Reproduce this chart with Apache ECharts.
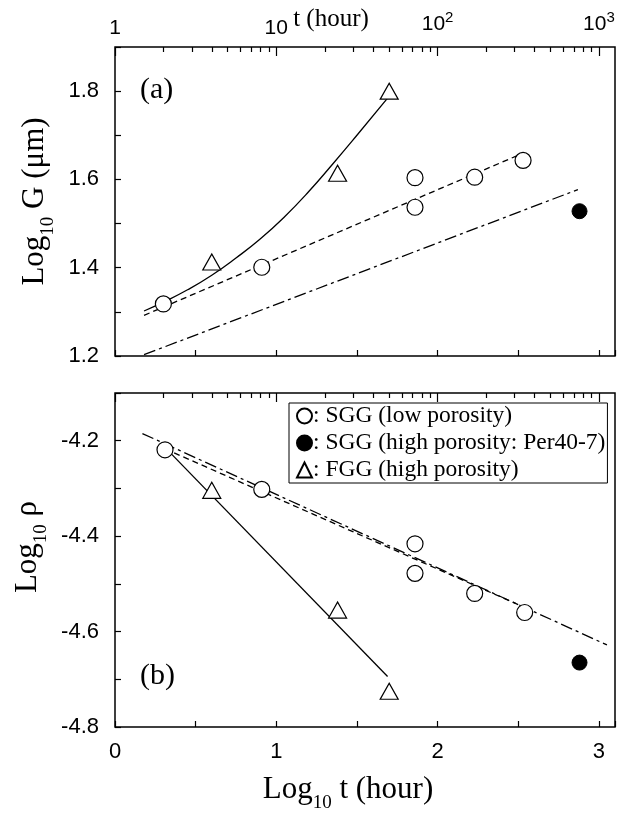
<!DOCTYPE html>
<html><head><meta charset="utf-8">
<script src="https://cdn.jsdelivr.net/npm/echarts@6/dist/echarts.min.js"></script>
<style>html,body{margin:0;padding:0;background:#fff}#c{width:623px;height:815px}</style>
</head><body><div id="c"></div>
<script>
// ---------- data (x = log10 t [hour]) ----------
// panel (a): log10 G (um)
const aSggLowX = [0.30, 0.91, 1.86, 1.86, 2.23, 2.53];
const aSggLowY = [1.318, 1.401, 1.604, 1.537, 1.605, 1.643];
const aSggHighX = [2.88];
const aSggHighY = [1.528];
const aFggX = [0.60, 1.38, 1.70];
const aFggY = [1.413, 1.614, 1.800];
// fitted curves in (a)
const aFggFitX = [0.18, 0.30, 0.45, 0.60, 0.75, 0.90, 1.05, 1.20, 1.35, 1.50, 1.69];
const aFggFitY = [1.302, 1.322, 1.350, 1.383, 1.422, 1.465, 1.515, 1.572, 1.635, 1.700, 1.784];
const aSggFitX = [0.18, 2.52];
const aSggFitY = [1.292, 1.658];
const aHighFitX = [0.18, 2.87];
const aHighFitY = [1.203, 1.577];
// panel (b): log10 rho
const bSggLowX = [0.31, 0.91, 1.86, 1.86, 2.23, 2.54];
const bSggLowY = [-4.219, -4.302, -4.416, -4.478, -4.520, -4.560];
const bSggHighX = [2.88];
const bSggHighY = [-4.665];
const bFggX = [0.60, 1.38, 1.70];
const bFggY = [-4.304, -4.555, -4.725];
const bFggFitX = [0.31, 1.69];
const bFggFitY = [-4.214, -4.694];
const bSggFitX = [0.31, 2.51];
const bSggFitY = [-4.217, -4.545];
const bHighFitX = [0.17, 3.05];
const bHighFitY = [-4.185, -4.628];
// tick labels
const bottomTickValues = [0, 1, 2, 3];
const bottomTickLabels = ['0', '1', '2', '3'];
const topTickValues = [0, 1, 2, 3];
const topTickLabels = ['{b|1}', '{b|10}', '{b|10}{s|2}', '{b|10}{s|3}'];
const topMinorTicks = [2,3,4,5,6,7,8,9,20,30,40,50,60,70,80,90,200,300,400,500,600,700,800,900].map(Math.log10);
const aYLabels = [1.2, 1.4, 1.6, 1.8];
const bYLabels = [-4.8, -4.6, -4.4, -4.2];
const names = ['SGG (low porosity)', 'SGG (high porosity: Per40-7)', 'FGG (high porosity)'];

const zip = (xs, ys) => xs.map((x, i) => [x, ys[i]]);
const SANS = 'Liberation Sans';
const SERIF = 'Liberation Serif';
const LBL = 22;

function xAxisBase(grid, pos) {
  return {type:'value', gridIndex:grid, position:pos, min:0, max:3.1,
    axisLine:{show:false}, splitLine:{show:false}};
}
const tickStyle = {color:'#000', width:1.2};
const xAxes = [
  Object.assign(xAxisBase(0,'bottom'), {interval:0.5, axisTick:{inside:true, length:6, lineStyle:tickStyle}, axisLabel:{show:false}}),
  Object.assign(xAxisBase(0,'top'), {axisTick:{inside:true, length:9, customValues:topTickValues, lineStyle:tickStyle},
    axisLabel:{customValues:topTickValues, margin:8, color:'#000', formatter:(v)=>topTickLabels[topTickValues.indexOf(Math.round(v))],
      rich:{b:{fontFamily:SANS, fontSize:21, color:'#000'}, s:{fontFamily:SANS, fontSize:15, color:'#000', padding:[0,0,14,0]}}}}),
  Object.assign(xAxisBase(0,'top'), {axisTick:{inside:true, length:5, customValues:topMinorTicks, lineStyle:tickStyle}, axisLabel:{show:false}}),
  Object.assign(xAxisBase(1,'bottom'), {interval:0.5, axisTick:{inside:true, length:6, lineStyle:tickStyle},
    axisLabel:{customValues:bottomTickValues, margin:14, color:'#000', fontFamily:SANS, fontSize:LBL, formatter:(v)=>bottomTickLabels[bottomTickValues.indexOf(Math.round(v))]}}),
  Object.assign(xAxisBase(1,'top'), {axisTick:{inside:true, length:9, customValues:topTickValues, lineStyle:tickStyle}, axisLabel:{show:false}}),
  Object.assign(xAxisBase(1,'top'), {axisTick:{inside:true, length:5, customValues:topMinorTicks, lineStyle:tickStyle}, axisLabel:{show:false}})
];
const nameRich = {t:{fontFamily:SERIF, fontSize:31, color:'#000'}, s:{fontFamily:SERIF, fontSize:19, color:'#000', padding:[26,0,0,0]}};
const yAxes = [
  {type:'value', gridIndex:0, min:1.2, max:1.9, interval:0.1, axisLine:{show:false}, splitLine:{show:false},
    axisTick:{inside:true, length:6, lineStyle:tickStyle},
    axisLabel:{customValues:aYLabels, margin:16, color:'#000', fontFamily:SANS, fontSize:LBL, formatter:(v)=>v.toFixed(1)},
    name:'{t|Log}{s|10}{t| G (μm)}', nameLocation:'middle', nameGap:56, nameRotate:90,
    nameTextStyle:{rich:nameRich}},
  {type:'value', gridIndex:1, min:-4.8, max:-4.1, interval:0.1, axisLine:{show:false}, splitLine:{show:false},
    axisTick:{inside:true, length:6, lineStyle:tickStyle},
    axisLabel:{customValues:bYLabels, margin:16, color:'#000', fontFamily:SANS, fontSize:LBL, formatter:(v)=>v.toFixed(1)},
    name:'{t|Log}{s|10}{t| ρ}', nameLocation:'middle', nameGap:56, nameRotate:90,
    nameTextStyle:{rich:nameRich, padding:[0,0,0,26]}}
];

function lineS(name, xi, yi, data, dash, smooth) {
  return {name:name, type:'line', xAxisIndex:xi, yAxisIndex:yi, data:data, symbol:'none', smooth:smooth||false,
    lineStyle:{color:'#000', width:1.3, type:dash}, silent:true, z:2};
}
function scat(name, xi, yi, data, kind) {
  const base = {name:name, type:'scatter', xAxisIndex:xi, yAxisIndex:yi, data:data, z:5, silent:true};
  if (kind === 'open') Object.assign(base, {symbol:'circle', symbolSize:16, itemStyle:{color:'#fff', borderColor:'#000', borderWidth:1.2, opacity:1}});
  if (kind === 'fill') Object.assign(base, {symbol:'circle', symbolSize:15, itemStyle:{color:'#000', borderColor:'#000', borderWidth:1, opacity:1}});
  if (kind === 'tri') Object.assign(base, {symbol:'triangle', symbolSize:[18,16], itemStyle:{color:'#fff', borderColor:'#000', borderWidth:1.2, opacity:1}});
  return base;
}

const option = {
  animation:false,
  backgroundColor:'#fff',
  grid:[
    {left:115, top:47, width:500, height:309, show:true, borderColor:'#000', borderWidth:1.5, backgroundColor:'transparent', containLabel:false, outerBoundsMode:'none'},
    {left:115, top:393, width:500, height:334, show:true, borderColor:'#000', borderWidth:1.5, backgroundColor:'transparent', containLabel:false, outerBoundsMode:'none'}
  ],
  xAxis:xAxes,
  yAxis:yAxes,
  legend:{left:289, top:403, orient:'vertical', selectedMode:false,
    data:[{name:names[0], icon:'circle'}, {name:names[1], icon:'circle'}, {name:names[2], icon:'triangle'}],
    formatter:(n)=>': ' + n, itemWidth:15, itemHeight:15, itemGap:3,
    textStyle:{fontFamily:SERIF, fontSize:23.5, color:'#000', padding:[0,0,0,-4]},
    borderColor:'#000', borderWidth:1, borderRadius:0, padding:[1,2,1,7], backgroundColor:'#fff'},
  graphic:[
    {type:'text', x:140, y:90, style:{text:'(a)', fontFamily:SERIF, fontSize:30, fill:'#000', verticalAlign:'middle'}},
    {type:'text', x:140, y:676, style:{text:'(b)', fontFamily:SERIF, fontSize:30, fill:'#000', verticalAlign:'middle'}},
    {type:'text', x:331, y:19, style:{text:'t (hour)', fontFamily:SERIF, fontSize:25, fill:'#000', align:'center', verticalAlign:'middle'}},
    {type:'text', x:348, y:790, style:{text:'{t|Log}{s|10}{t| t (hour)}', rich:nameRich, align:'center', verticalAlign:'middle'}}
  ],
  series:[
    lineS('fitA1', 0, 0, zip(aFggFitX, aFggFitY), 'solid', true),
    lineS('fitA2', 0, 0, zip(aSggFitX, aSggFitY), [6,4]),
    lineS('fitA3', 0, 0, zip(aHighFitX, aHighFitY), [12,4,3,4]),
    scat(names[0], 0, 0, zip(aSggLowX, aSggLowY), 'open'),
    scat(names[1], 0, 0, zip(aSggHighX, aSggHighY), 'fill'),
    scat(names[2], 0, 0, zip(aFggX, aFggY), 'tri'),
    lineS('fitB1', 3, 1, zip(bFggFitX, bFggFitY), 'solid'),
    lineS('fitB2', 3, 1, zip(bSggFitX, bSggFitY), [6,4]),
    lineS('fitB3', 3, 1, zip(bHighFitX, bHighFitY), [12,4,3,4]),
    scat(names[0], 3, 1, zip(bSggLowX, bSggLowY), 'open'),
    scat(names[1], 3, 1, zip(bSggHighX, bSggHighY), 'fill'),
    scat(names[2], 3, 1, zip(bFggX, bFggY), 'tri')
  ]
};
const chart = echarts.init(document.getElementById('c'), null, {renderer:'canvas'});
chart.setOption(option);
</script></body></html>
